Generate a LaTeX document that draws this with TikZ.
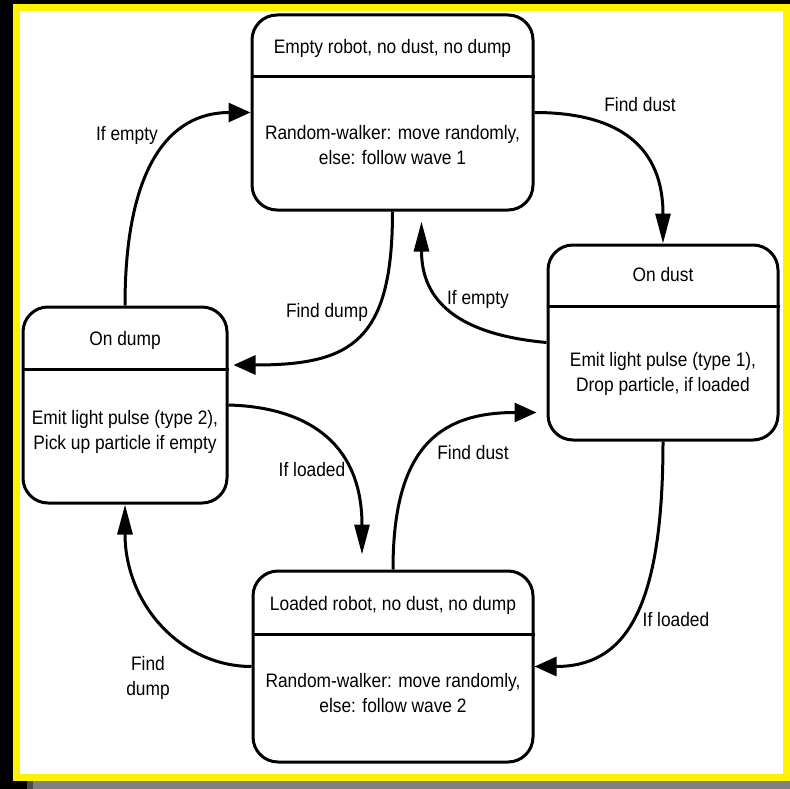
\documentclass[tikz,border=0pt]{standalone}
\usepackage{fontspec}
\setmainfont{Liberation Sans}[FakeStretch=0.89]
\usetikzlibrary{arrows.meta,calc}
\begin{document}
\begin{tikzpicture}[x=1pt,y=-1pt,
  statebox/.style={draw, line width=3pt, rounded corners=25pt, fill=white, inner sep=0pt},
  divider/.style={line width=3pt},
  txt/.style={font=\fontsize{19.5}{25}\selectfont, align=center, inner sep=0pt},
  conn/.style={line width=3pt},
  vtip/.style={-{Triangle[length=30pt,width=15pt]}},
  htip/.style={-{Triangle[length=22pt,width=19pt]}},
]
% frame
\fill[black] (0,0) rectangle (790,789);
\fill[yellow] (13,4) rectangle (790,781);
\fill[white] (20,11) rectangle (783,774);
\fill[gray] (33,781) rectangle (790,789);
\fill[black!70] (27,781) rectangle (33,789);

% state boxes
\node[statebox, minimum width=281pt, minimum height=195pt] (T) at (392.5,112.5) {};
\draw[divider] ([yshift=-63pt]T.north west) -- ([yshift=-63pt]T.north east);
\node[txt] (Tt) at (392.5,48) {Empty robot, no dust, no dump};
\node[txt] (Tb) at (392.5,145) {Random-walker: move randomly,\\else: follow wave 1};

\node[statebox, minimum width=230pt, minimum height=195pt] (R) at (663,342.5) {};
\draw[divider] ([yshift=-63pt]R.north west) -- ([yshift=-63pt]R.north east);
\node[txt] (Rt) at (663,275) {On dust};
\node[txt] (Rb) at (663,374) {Emit light pulse (type 1),\\Drop particle, if loaded};

\node[statebox, minimum width=204pt, minimum height=196pt] (L) at (125,405) {};
\draw[divider] ([yshift=-64pt]L.north west) -- ([yshift=-64pt]L.north east);
\node[txt] (Lt) at (125,340) {On dump};
\node[txt] (Lb) at (125,432) {Emit light pulse (type 2),\\Pick up particle if empty};

\node[statebox, minimum width=280pt, minimum height=191pt] (B) at (393,666.5) {};
\draw[divider] ([yshift=-65pt]B.north west) -- ([yshift=-65pt]B.north east);
\node[txt] (Bt) at (393,605) {Loaded robot, no dust, no dump};
\node[txt] (Bb) at (393,693) {Random-walker: move randomly,\\else: follow wave 2};

% connectors
\draw[conn,htip] (L.north) .. controls +(0,-137) and +(-82,0) .. (T.west);
\draw[conn,vtip] (T.east) .. controls +(87,0) and +(0,-95) .. (R.north);
\draw[conn,vtip] (R.west) .. controls +(-88,-8) and +(0,80) .. ($(T.south)+(29,10)$);
\draw[conn,htip] (T.south) .. controls +(0,130) and +(118,0) .. ($(L.east)+(5,-40)$);
\draw[conn,vtip] (L.east) .. controls +(73,2) and +(0,-116) .. ($(B.north)+(-31,-15)$);
\draw[conn,htip] (B.north) .. controls +(0,-121) and +(-98,0) .. ($(R.west)+(-10,70)$);
\draw[conn,htip] (R.south) .. controls +(0,170) and +(90,0) .. (B.east);
\draw[conn,vtip] (B.west) .. controls +(-70,0) and +(0,100) .. (L.south);

% labels
\node[txt] (l1) at (127,135) {If empty};
\node[txt] (l2) at (640,105) {Find dust};
\node[txt] (l3) at (478,299) {If empty};
\node[txt] (l4) at (327,312) {Find dump};
\node[txt] (l5) at (312,470) {If loaded};
\node[txt] (l6) at (473,453) {Find dust};
\node[txt] (l7) at (676,620) {If loaded};
\node[txt] (l8) at (148,678) {Find\\dump};
\end{tikzpicture}
\end{document}
